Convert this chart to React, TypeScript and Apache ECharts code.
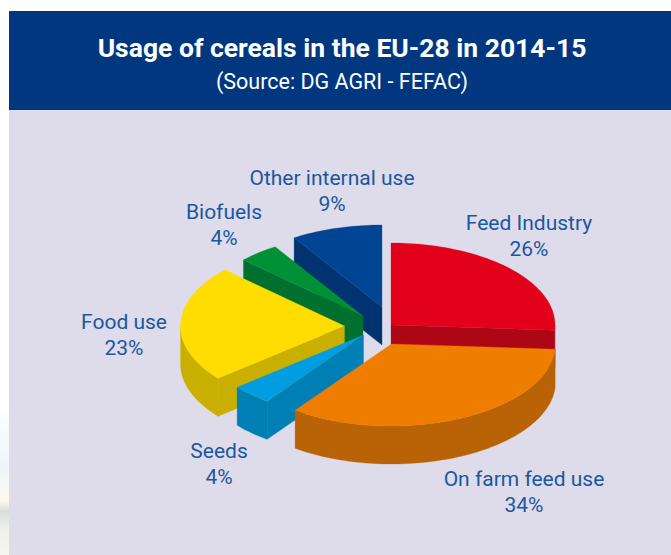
import React, { useEffect, useRef } from "react";
import * as echarts from "echarts";

const categories = ["Feed Industry", "On farm feed use", "Seeds", "Food use", "Biofuels", "Other internal use"];
const shares = [26, 34, 4, 23, 4, 9];
const titleText = "Usage of cereals in the EU-28 in 2014-15";
const sourceText = "(Source: DG AGRI - FEFAC)";

// Styling and layout, by slice
const topColors = ["#e2001a", "#ef7d00", "#009ee0", "#ffdd00", "#009036", "#004494"];
const wallColors = ["#ad0715", "#b96306", "#007fb4", "#c9b000", "#00702e", "#00336f"];
const sliceCenters = [[391, 325], [391.5, 344], [363.5, 335], [344.5, 326], [363, 316], [382, 307]];
const labelCenters = [[529, 236], [524, 492], [219, 464], [124, 335], [224, 225], [332, 191]];
const drawOrder = [5, 4, 3, 2, 0, 1];
const RX = 164;
const RY = 82;
const DEPTH = 38;
const LABEL_COLOR = "#1b57a0";
const FONT = "Roboto";

const totalShare = shares.reduce((a, b) => a + b, 0);
const startShares = shares.map((_, i) => shares.slice(0, i).reduce((a, b) => a + b, 0));

const toAngle = (share: number) => (share / totalShare) * Math.PI * 2; // clockwise from the top

function rimPoint(c: number[], t: number, dy = 0): number[] {
  return [c[0] + RX * Math.sin(t), c[1] - RY * Math.cos(t) + dy];
}

function arcPoints(c: number[], a: number, b: number, dy = 0): number[][] {
  const n = Math.max(2, Math.ceil(((b - a) / Math.PI) * 120));
  const out: number[][] = [];
  for (let i = 0; i <= n; i++) out.push(rimPoint(c, a + ((b - a) * i) / n, dy));
  return out;
}

function renderSlice(_: any, api: any) {
  const i = api.value(0);
  const a = toAngle(api.value(1));
  const b = a + toAngle(api.value(2));
  const c = sliceCenters[i];
  const wallStyle = { fill: wallColors[i], stroke: wallColors[i], lineWidth: 0.3 };
  const children: any[] = [];
  const radialFace = (t: number) => ({
    type: "polygon",
    shape: {
      points: [c, rimPoint(c, t), rimPoint(c, t, DEPTH), [c[0], c[1] + DEPTH]],
    },
    style: wallStyle,
  });
  // A cut face shows when it turns towards the viewer
  if (-Math.sin(a) > 1e-6) children.push(radialFace(a));
  if (Math.sin(b) > 1e-6) children.push(radialFace(b));
  const wa = Math.max(a, Math.PI / 2);
  const wb = Math.min(b, (Math.PI * 3) / 2);
  if (wb > wa) {
    children.push({
      type: "polygon",
      shape: { points: [...arcPoints(c, wa, wb), ...arcPoints(c, wa, wb, DEPTH).reverse()] },
      style: wallStyle,
    });
  }
  children.push({
    type: "polygon",
    shape: { points: [c, ...arcPoints(c, a, b)] },
    style: { fill: topColors[i], stroke: topColors[i], lineWidth: 0.3 },
  });
  const label = labelCenters[i];
  children.push({
    type: "text",
    x: label[0],
    y: label[1],
    style: {
      text: `${categories[i]}\n${api.value(2)}%`,
      fill: LABEL_COLOR,
      font: `21px ${FONT}`,
      lineHeight: 26,
      align: "center",
      verticalAlign: "middle",
    },
  });
  return { type: "group", children };
}

export default function App() {
  const ref = useRef<HTMLDivElement>(null);
  useEffect(() => {
    document.body.style.margin = "0";
    const chart = echarts.init(ref.current!, null, { renderer: "svg" });
    chart.setOption({
      animation: false,
      backgroundColor: "#ffffff",
      graphic: [
        {
          type: "rect",
          shape: { x: 0, y: 11, width: 9, height: 544 },
          style: {
            fill: {
              type: "linear", x: 0, y: 0, x2: 0, y2: 1,
              colorStops: [
                { offset: 0, color: "#ffffff" },
                { offset: 0.72, color: "#ffffff" },
                { offset: 0.84, color: "#eef6fb" },
                { offset: 0.9, color: "#fdf9f0" },
                { offset: 0.92, color: "#d9dcd9" },
                { offset: 0.95, color: "#eef0ea" },
                { offset: 1, color: "#f6f7ec" },
              ],
            },
          },
        },
        { type: "rect", shape: { x: 9, y: 110, width: 662, height: 445 }, style: { fill: "#dedcea" } },
        { type: "rect", shape: { x: 9, y: 11, width: 662, height: 99 }, style: { fill: "#00377f" } },
        {
          type: "text", x: 342, y: 47,
          style: { text: titleText, fill: "#ffffff", font: `bold 26.5px ${FONT}`, align: "center", verticalAlign: "middle" },
        },
        {
          type: "text", x: 342, y: 81,
          style: { text: sourceText, fill: "#ffffff", font: `21.5px ${FONT}`, align: "center", verticalAlign: "middle" },
        },
      ],
      series: [
        {
          type: "custom",
          coordinateSystem: "none",
          renderItem: renderSlice,
          silent: true,
          data: drawOrder.map((i) => [i, startShares[i], shares[i]]),
        },
      ],
    });
    return () => chart.dispose();
  }, []);
  return <div ref={ref} style={{ position: "absolute", left: 0, top: 0, width: 671, height: 555 }} />;
}
